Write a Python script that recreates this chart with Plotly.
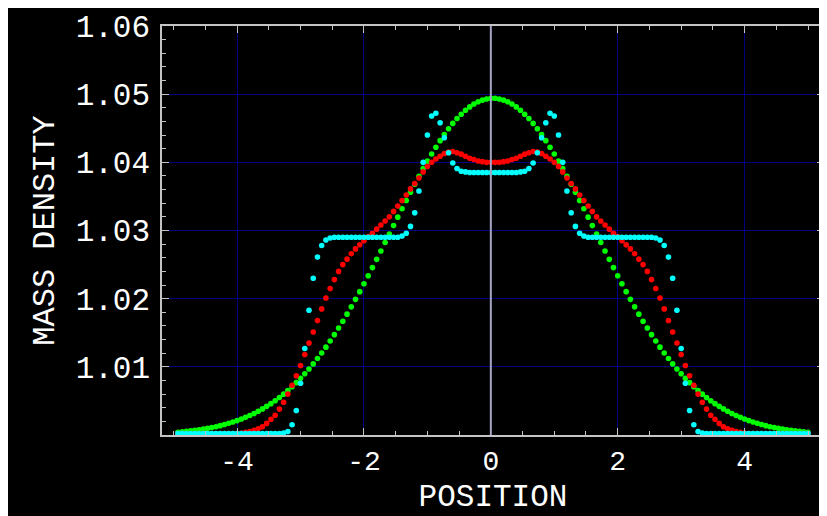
import plotly.graph_objects as go

# positions of the sample points (150 points)
position = [
    -4.9333, -4.8667, -4.8, -4.7333, -4.6667, -4.6, -4.5333, -4.4667, -4.4, -4.3333, -4.2667, -4.2, -4.1333, -4.0667, -4.0,
    -3.9333, -3.8667, -3.8, -3.7333, -3.6667, -3.6, -3.5333, -3.4667, -3.4, -3.3333, -3.2667, -3.2, -3.1333, -3.0667, -3.0,
    -2.9333, -2.8667, -2.8, -2.7333, -2.6667, -2.6, -2.5333, -2.4667, -2.4, -2.3333, -2.2667, -2.2, -2.1333, -2.0667, -2.0,
    -1.9333, -1.8667, -1.8, -1.7333, -1.6667, -1.6, -1.5333, -1.4667, -1.4, -1.3333, -1.2667, -1.2, -1.1333, -1.0667, -1.0,
    -0.9333, -0.8667, -0.8, -0.7333, -0.6667, -0.6, -0.5333, -0.4667, -0.4, -0.3333, -0.2667, -0.2, -0.1333, -0.0667, 0.0,
    0.0667, 0.1333, 0.2, 0.2667, 0.3333, 0.4, 0.4667, 0.5333, 0.6, 0.6667, 0.7333, 0.8, 0.8667, 0.9333, 1.0,
    1.0667, 1.1333, 1.2, 1.2667, 1.3333, 1.4, 1.4667, 1.5333, 1.6, 1.6667, 1.7333, 1.8, 1.8667, 1.9333, 2.0,
    2.0667, 2.1333, 2.2, 2.2667, 2.3333, 2.4, 2.4667, 2.5333, 2.6, 2.6667, 2.7333, 2.8, 2.8667, 2.9333, 3.0,
    3.0667, 3.1333, 3.2, 3.2667, 3.3333, 3.4, 3.4667, 3.5333, 3.6, 3.6667, 3.7333, 3.8, 3.8667, 3.9333, 4.0,
    4.0667, 4.1333, 4.2, 4.2667, 4.3333, 4.4, 4.4667, 4.5333, 4.6, 4.6667, 4.7333, 4.8, 4.8667, 4.9333, 5.0,
]

density_green = [
    1.00041, 1.00047, 1.00053, 1.00060, 1.00068, 1.00077, 1.00087, 1.00097, 1.00109, 1.00122,
    1.00137, 1.00153, 1.00171, 1.00190, 1.00211, 1.00234, 1.00259, 1.00286, 1.00316, 1.00348,
    1.00383, 1.00420, 1.00460, 1.00503, 1.00550, 1.00599, 1.00652, 1.00708, 1.00768, 1.00831,
    1.00898, 1.00969, 1.01043, 1.01122, 1.01204, 1.01289, 1.01379, 1.01472, 1.01569, 1.01669,
    1.01773, 1.01880, 1.01990, 1.02103, 1.02218, 1.02336, 1.02456, 1.02577, 1.02700, 1.02824,
    1.02948, 1.03072, 1.03196, 1.03319, 1.03441, 1.03561, 1.03679, 1.03795, 1.03908, 1.04017,
    1.04122, 1.04222, 1.04318, 1.04408, 1.04493, 1.04571, 1.04642, 1.04706, 1.04763, 1.04813,
    1.04855, 1.04888, 1.04913, 1.04930, 1.04939,
    1.04939, 1.04930, 1.04913, 1.04888, 1.04855,
    1.04813, 1.04763, 1.04706, 1.04642, 1.04571, 1.04493, 1.04408, 1.04318, 1.04222, 1.04122,
    1.04017, 1.03908, 1.03795, 1.03679, 1.03561, 1.03441, 1.03319, 1.03196, 1.03072, 1.02948,
    1.02824, 1.02700, 1.02577, 1.02456, 1.02336, 1.02218, 1.02103, 1.01990, 1.01880, 1.01773,
    1.01669, 1.01569, 1.01472, 1.01379, 1.01289, 1.01204, 1.01122, 1.01043, 1.00969, 1.00898,
    1.00831, 1.00768, 1.00708, 1.00652, 1.00599, 1.00550, 1.00503, 1.00460, 1.00420, 1.00383,
    1.00348, 1.00316, 1.00286, 1.00259, 1.00234, 1.00211, 1.00190, 1.00171, 1.00153, 1.00137,
    1.00122, 1.00109, 1.00097, 1.00087, 1.00077, 1.00068, 1.00060, 1.00053, 1.00047, 1.00041,
]

density_red = [
    1.0002, 1.0002, 1.0002, 1.0002, 1.0002, 1.0002, 1.0002, 1.0002, 1.0002, 1.0002, 1.0002, 1.0002, 1.0002, 1.0002, 1.0002,
    1.0003, 1.0004, 1.0005, 1.0007, 1.0009, 1.0012, 1.0017, 1.0023, 1.0029, 1.0038,
    1.0048, 1.0060, 1.0073, 1.0087, 1.0102, 1.0118, 1.0135, 1.0151, 1.0168, 1.0185,
    1.0201, 1.0215, 1.0228, 1.0240, 1.0250, 1.0258, 1.0266, 1.0273, 1.0279, 1.0285,
    1.0291, 1.0296, 1.0302, 1.0308, 1.0314, 1.0320, 1.0328, 1.0336, 1.0344, 1.0352,
    1.0361, 1.0369, 1.0377, 1.0386, 1.0394, 1.0400, 1.0405, 1.0409, 1.0413, 1.0415,
    1.0416, 1.0414, 1.0412, 1.0409, 1.0406, 1.0404, 1.0402, 1.0401, 1.0400, 1.0400,
    1.0400, 1.0400, 1.0401, 1.0402, 1.0404, 1.0406, 1.0409, 1.0412, 1.0414, 1.0416,
    1.0415, 1.0413, 1.0409, 1.0405, 1.0400, 1.0394, 1.0386, 1.0377, 1.0369, 1.0361,
    1.0352, 1.0344, 1.0336, 1.0328, 1.0320, 1.0314, 1.0308, 1.0302, 1.0296, 1.0291,
    1.0285, 1.0279, 1.0273, 1.0266, 1.0258, 1.0250, 1.0240, 1.0228, 1.0215, 1.0201,
    1.0185, 1.0168, 1.0151, 1.0135, 1.0118, 1.0102, 1.0087, 1.0073, 1.0060, 1.0048,
    1.0038, 1.0029, 1.0023, 1.0017, 1.0012, 1.0009, 1.0007, 1.0005, 1.0004, 1.0003,
    1.0002, 1.0002, 1.0002, 1.0002, 1.0002, 1.0002, 1.0002, 1.0002, 1.0002, 1.0002, 1.0002, 1.0002, 1.0002, 1.0002, 1.0002,
]

density_cyan = [
    1.0002, 1.0002, 1.0002, 1.0002, 1.0002, 1.0002, 1.0002, 1.0002, 1.0002, 1.0002, 1.0002, 1.0002, 1.0002,
    1.0002, 1.0002, 1.0002, 1.0002, 1.0002, 1.0002, 1.0002, 1.0002, 1.0002, 1.0002, 1.0002, 1.0002,
    1.0003, 1.0005, 1.0015, 1.0036, 1.0076, 1.0127, 1.0183, 1.0230, 1.0261, 1.0278,
    1.0286, 1.0289, 1.0290, 1.0290, 1.0290, 1.0290, 1.0290, 1.0290, 1.0290, 1.0290,
    1.0290, 1.0290, 1.0290, 1.0290, 1.0290, 1.0290, 1.0290, 1.0290, 1.0292, 1.0296,
    1.0306, 1.0326, 1.0358, 1.0400, 1.0440, 1.0468, 1.0472, 1.0458, 1.0436, 1.0414,
    1.0399, 1.0391, 1.0387, 1.0386, 1.0385, 1.0385, 1.0385, 1.0385, 1.0385, 1.0385,
    1.0385, 1.0385, 1.0385, 1.0385, 1.0385, 1.0385, 1.0386, 1.0387, 1.0391, 1.0399,
    1.0414, 1.0436, 1.0458, 1.0472, 1.0468, 1.0440, 1.0400, 1.0358, 1.0326, 1.0306,
    1.0296, 1.0292, 1.0290, 1.0290, 1.0290, 1.0290, 1.0290, 1.0290, 1.0290, 1.0290,
    1.0290, 1.0290, 1.0290, 1.0290, 1.0290, 1.0290, 1.0290, 1.0290, 1.0289, 1.0286,
    1.0278, 1.0261, 1.0230, 1.0183, 1.0127, 1.0076, 1.0036, 1.0015, 1.0005, 1.0003,
    1.0002, 1.0002, 1.0002, 1.0002, 1.0002, 1.0002, 1.0002, 1.0002, 1.0002, 1.0002, 1.0002, 1.0002, 1.0002,
    1.0002, 1.0002, 1.0002, 1.0002, 1.0002, 1.0002, 1.0002, 1.0002, 1.0002, 1.0002, 1.0002, 1.0002,
]

x_ticks = [-4, -2, 0, 2, 4]
x_tick_text = ["-4", "-2", "0", "2", "4"]
x_minor = [-5.0, -4.5, -3.5, -3.0, -2.5, -1.5, -1.0, -0.5, 0.5, 1.0, 1.5, 2.5, 3.0, 3.5, 4.5, 5.0]
y_ticks = [1.01, 1.02, 1.03, 1.04, 1.05, 1.06]
y_tick_text = ["1.01", "1.02", "1.03", "1.04", "1.05", "1.06"]
y_minor = [1.002, 1.004, 1.006, 1.008, 1.012, 1.014, 1.016, 1.018, 1.022, 1.024, 1.026, 1.028,
           1.032, 1.034, 1.036, 1.038, 1.042, 1.044, 1.046, 1.048, 1.052, 1.054, 1.056, 1.058]

FONT = "Liberation Mono, Courier New, monospace"
FRAME = "#c4c4c4"

fig = go.Figure()
for ys, col in [(density_green, "#00ff00"), (density_red, "#ff0000"), (density_cyan, "#00ffff")]:
    fig.add_trace(go.Scatter(
        x=position, y=ys, mode="markers", cliponaxis=False,
        marker=dict(color=col, size=5.6, line=dict(width=0)),
        showlegend=False, hoverinfo="skip"))

fig.add_shape(type="line", xref="x", yref="paper", x0=0, x1=0, y0=0, y1=1,
              line=dict(color="#a4a4c4", width=2), layer="above")

fig.update_layout(
    width=827, height=516,
    margin=dict(l=154, r=11, t=18, b=89, autoexpand=False),
    paper_bgcolor="black", plot_bgcolor="black",
    font=dict(family=FONT, color="white", size=30),
)
fig.update_xaxes(
    range=[-5.184, 5.252], tickmode="array", tickvals=x_ticks, ticktext=x_tick_text,
    showgrid=True, gridcolor="#000080", gridwidth=1, zeroline=False,
    showline=True, linecolor=FRAME, linewidth=1.5, mirror="ticks",
    ticks="inside", ticklen=7, tickcolor=FRAME, tickwidth=1,
    ticklabelstandoff=0,
    tickfont=dict(family=FONT, size=28, color="white"),
    minor=dict(tickmode="array", tickvals=x_minor, ticks="inside", ticklen=4,
               tickcolor=FRAME, showgrid=False),
    title=dict(text="POSITION", font=dict(family=FONT, size=31, color="white"), standoff=7),
    automargin=False,
)
fig.update_yaxes(
    range=[1.0, 1.06], tickmode="array", tickvals=y_ticks, ticktext=y_tick_text,
    showgrid=True, gridcolor="#000080", gridwidth=1, zeroline=False,
    showline=True, linecolor=FRAME, linewidth=1.5, mirror="ticks",
    ticks="inside", ticklen=7, tickcolor=FRAME, tickwidth=1,
    ticklabelstandoff=4,
    tickfont=dict(family=FONT, size=31, color="white"),
    minor=dict(tickmode="array", tickvals=y_minor, ticks="inside", ticklen=4,
               tickcolor=FRAME, showgrid=False),
    title=dict(text="MASS DENSITY", font=dict(family=FONT, size=32, color="white"), standoff=11),
    automargin=False,
)

fig.write_html("out.html")
